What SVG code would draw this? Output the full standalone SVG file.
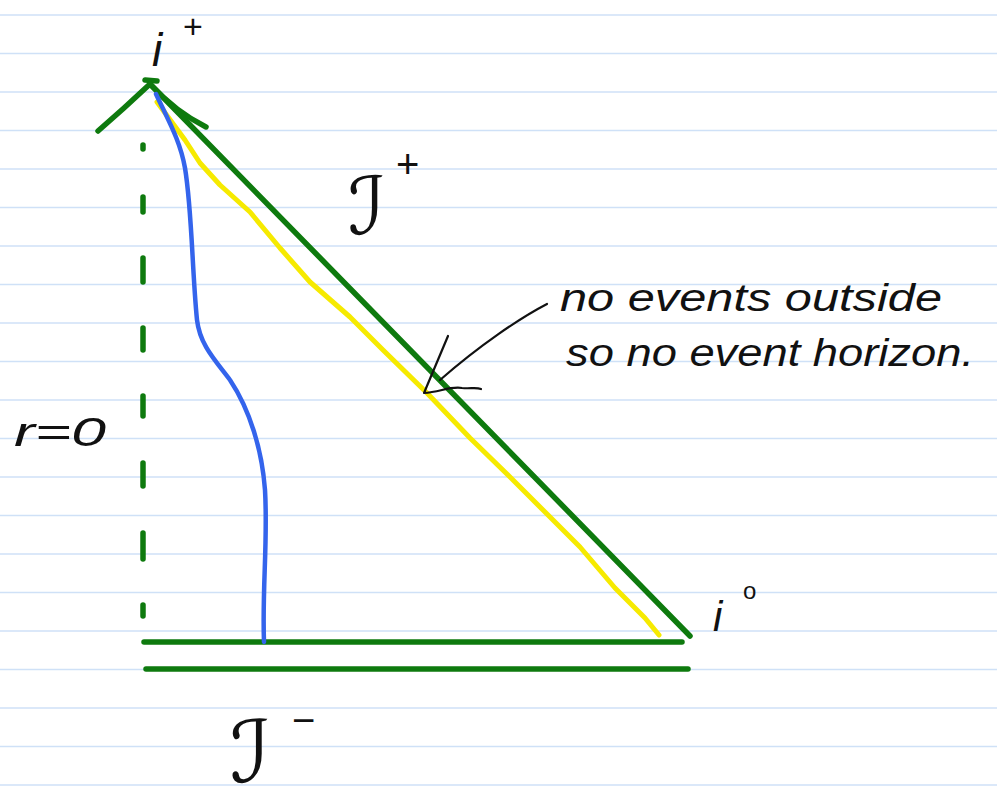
<svg xmlns="http://www.w3.org/2000/svg" width="997" height="802" viewBox="0 0 997 802">
<style>
.rule{stroke:#cfe1f7;stroke-width:1.6}
.g{stroke:#0e7a0e;stroke-width:5.5;fill:none;stroke-linecap:round;stroke-linejoin:round}
.gd{stroke:#0e7a0e;stroke-width:5.5;fill:none;stroke-linecap:round}
.b{stroke:#3464ec;stroke-width:4.5;fill:none;stroke-linecap:round;stroke-linejoin:round}
.y{stroke:#f6ea00;stroke-width:5;fill:none;stroke-linecap:round;stroke-linejoin:round}
.k{stroke:#111;stroke-width:2.2;fill:none;stroke-linecap:round;stroke-linejoin:round}
.t{font-family:"Liberation Sans","DejaVu Sans",sans-serif;fill:#111}
.s{font-family:"DejaVu Serif","DejaVu Sans",serif;fill:#111;font-style:italic}
</style>
<rect width="997" height="802" fill="#ffffff"/>
<g id="paper-lines">
<line class="rule" x1="0" y1="15" x2="997" y2="15"/>
<line class="rule" x1="0" y1="53.5" x2="997" y2="53.5"/>
<line class="rule" x1="0" y1="92" x2="997" y2="92"/>
<line class="rule" x1="0" y1="130.5" x2="997" y2="130.5"/>
<line class="rule" x1="0" y1="169" x2="997" y2="169"/>
<line class="rule" x1="0" y1="207.5" x2="997" y2="207.5"/>
<line class="rule" x1="0" y1="246" x2="997" y2="246"/>
<line class="rule" x1="0" y1="284.5" x2="997" y2="284.5"/>
<line class="rule" x1="0" y1="323" x2="997" y2="323"/>
<line class="rule" x1="0" y1="361.5" x2="997" y2="361.5"/>
<line class="rule" x1="0" y1="400" x2="997" y2="400"/>
<line class="rule" x1="0" y1="438.5" x2="997" y2="438.5"/>
<line class="rule" x1="0" y1="477" x2="997" y2="477"/>
<line class="rule" x1="0" y1="515.5" x2="997" y2="515.5"/>
<line class="rule" x1="0" y1="554" x2="997" y2="554"/>
<line class="rule" x1="0" y1="592.5" x2="997" y2="592.5"/>
<line class="rule" x1="0" y1="631" x2="997" y2="631"/>
<line class="rule" x1="0" y1="669.5" x2="997" y2="669.5"/>
<line class="rule" x1="0" y1="708" x2="997" y2="708"/>
<line class="rule" x1="0" y1="746.5" x2="997" y2="746.5"/>
<line class="rule" x1="0" y1="785" x2="997" y2="785"/>
</g>
<g id="connectors">
<g id="r0-line">
<line class="gd" x1="143" y1="145" x2="143" y2="149"/>
<line class="gd" x1="143" y1="197" x2="143" y2="212"/>
<line class="gd" x1="143" y1="258" x2="143" y2="282"/>
<line class="gd" x1="143" y1="328" x2="143" y2="350"/>
<line class="gd" x1="143" y1="396" x2="143" y2="416"/>
<line class="gd" x1="143" y1="463" x2="143" y2="486"/>
<line class="gd" x1="143" y1="533" x2="143" y2="559"/>
<line class="gd" x1="143" y1="605" x2="143" y2="616"/>
</g>
<path class="g" d="M98,131 L124,108 L150,84"/>
<path class="g" d="M145,80 L157,81"/>
<path class="g" d="M150,84 Q176,112 206,127"/>
<line class="g" x1="150" y1="84" x2="690" y2="636"/>
<line class="g" x1="144" y1="642" x2="682" y2="642"/>
<line class="g" x1="146" y1="669" x2="688" y2="669"/>
<path class="y" d="M157,102 L185,140 L200,163 L220,185 L250,212 L280,248 L310,282 L350,317 L383,350 L427,393 L470,438 L510,477 L545,512 L580,547 L615,588 L645,618 L659,635"/>
<path class="b" d="M156,94 C168,120 180,140 185,168 C192,210 192,270 197,320 C200,345 215,360 230,380 C250,410 262,450 265,490 C268,540 262,590 264,642"/>
<path class="k" d="M547,304 C520,318 480,345 440,380"/>
<path class="k" d="M448,336 L424,393 C440,392 450,386 462,388 C470,389 476,387 481,389"/>
</g>
<g id="label-iplus">
<text class="t" x="152" y="66" font-size="46" font-style="italic">i</text>
<text class="t" x="183" y="38" font-size="34">+</text>
</g>
<g id="label-scri-plus">
<text class="s" x="348" y="234" font-size="80">ℐ</text>
<text class="t" x="396" y="178" font-size="40">+</text>
</g>
<g id="label-scri-minus">
<text class="s" x="230" y="782" font-size="86">ℐ</text>
<text class="t" x="292" y="734" font-size="40">−</text>
</g>
<g id="label-r0">
<text class="t" x="14" y="446" font-size="40" font-style="italic" textLength="92" lengthAdjust="spacingAndGlyphs">r=0</text>
</g>
<g id="label-i0">
<text class="t" x="713" y="631" font-size="42" font-style="italic">i</text>
<text class="t" x="743" y="599" font-size="24">o</text>
</g>
<g id="note">
<text class="t" x="560" y="311" font-size="38" font-style="italic" textLength="382" lengthAdjust="spacingAndGlyphs">no events outside</text>
<text class="t" x="566" y="366" font-size="38" font-style="italic" textLength="408" lengthAdjust="spacingAndGlyphs">so no event horizon.</text>
</g>
</svg>
